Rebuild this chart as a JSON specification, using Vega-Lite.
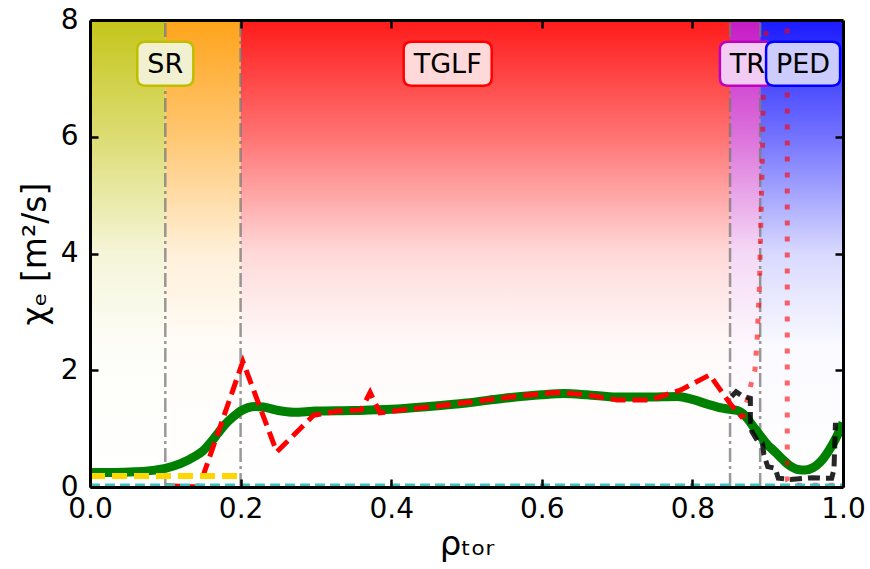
{
  "$schema": "https://vega.github.io/schema/vega-lite/v6.json",
  "width": 753,
  "height": 467,
  "autosize": {"type": "none"},
  "padding": {"left": 90, "top": 20, "right": 27, "bottom": 82},
  "background": "white",
  "config": {"view": {"stroke": null}, "font": "DejaVu Sans"},
  "resolve": {"axis": {"x": "independent", "y": "independent"}},
  "datasets": {
    "vlines": [{"x": 0.1}, {"x": 0.2}, {"x": 0.85}, {"x": 0.89}],
    "green": [
      {"x": 0, "y": 0.25}, {"x": 0.03, "y": 0.25}, {"x": 0.06, "y": 0.26}, {"x": 0.08, "y": 0.28},
      {"x": 0.1, "y": 0.32}, {"x": 0.12, "y": 0.4}, {"x": 0.14, "y": 0.53}, {"x": 0.15, "y": 0.62},
      {"x": 0.16, "y": 0.76}, {"x": 0.17, "y": 0.92}, {"x": 0.18, "y": 1.08}, {"x": 0.19, "y": 1.2},
      {"x": 0.2, "y": 1.3}, {"x": 0.21, "y": 1.36}, {"x": 0.22, "y": 1.38}, {"x": 0.23, "y": 1.37},
      {"x": 0.25, "y": 1.31}, {"x": 0.27, "y": 1.28}, {"x": 0.3, "y": 1.3}, {"x": 0.35, "y": 1.31},
      {"x": 0.4, "y": 1.33}, {"x": 0.45, "y": 1.38}, {"x": 0.5, "y": 1.44}, {"x": 0.55, "y": 1.52},
      {"x": 0.6, "y": 1.58}, {"x": 0.63, "y": 1.6}, {"x": 0.66, "y": 1.58}, {"x": 0.7, "y": 1.54},
      {"x": 0.74, "y": 1.54}, {"x": 0.78, "y": 1.55}, {"x": 0.8, "y": 1.5}, {"x": 0.82, "y": 1.42},
      {"x": 0.84, "y": 1.35}, {"x": 0.85, "y": 1.33}, {"x": 0.86, "y": 1.31}, {"x": 0.87, "y": 1.22},
      {"x": 0.88, "y": 1.05}, {"x": 0.89, "y": 0.88}, {"x": 0.9, "y": 0.72}, {"x": 0.91, "y": 0.6},
      {"x": 0.92, "y": 0.47}, {"x": 0.93, "y": 0.36}, {"x": 0.94, "y": 0.3}, {"x": 0.95, "y": 0.29},
      {"x": 0.96, "y": 0.33}, {"x": 0.97, "y": 0.43}, {"x": 0.98, "y": 0.6}, {"x": 0.99, "y": 0.82},
      {"x": 1.0, "y": 1.1}
    ],
    "tglf": [
      {"x": 0.1, "y": 0.02}, {"x": 0.145, "y": 0.0}, {"x": 0.203, "y": 2.15}, {"x": 0.248, "y": 0.6},
      {"x": 0.297, "y": 1.23}, {"x": 0.33, "y": 1.3}, {"x": 0.36, "y": 1.32}, {"x": 0.372, "y": 1.62},
      {"x": 0.385, "y": 1.27}, {"x": 0.42, "y": 1.33}, {"x": 0.47, "y": 1.4}, {"x": 0.52, "y": 1.48},
      {"x": 0.57, "y": 1.56}, {"x": 0.62, "y": 1.62}, {"x": 0.66, "y": 1.58}, {"x": 0.7, "y": 1.49},
      {"x": 0.744, "y": 1.49}, {"x": 0.784, "y": 1.66}, {"x": 0.823, "y": 1.92}, {"x": 0.85, "y": 1.43},
      {"x": 0.867, "y": 1.18}
    ],
    "dotted": [
      {"x": 0.867, "y": 1.18}, {"x": 0.872, "y": 1.45}, {"x": 0.877, "y": 1.72}, {"x": 0.883, "y": 2.0},
      {"x": 0.886, "y": 2.52}, {"x": 0.889, "y": 3.43}, {"x": 0.891, "y": 4.57}, {"x": 0.893, "y": 5.71},
      {"x": 0.894, "y": 6.68}, {"x": 0.898, "y": 7.83}, {"x": 0.9, "y": 9.0}, {"x": 0.925, "y": 9.0},
      {"x": 0.926, "y": 8.5}, {"x": 0.926, "y": 0.12}, {"x": 0.93, "y": 0.03}, {"x": 1.0, "y": 0.03}
    ],
    "black": [
      {"x": 0.852, "y": 1.55}, {"x": 0.858, "y": 1.63}, {"x": 0.866, "y": 1.56}, {"x": 0.877, "y": 1.52},
      {"x": 0.877, "y": 1.1}, {"x": 0.879, "y": 0.95}, {"x": 0.886, "y": 0.8}, {"x": 0.893, "y": 0.75},
      {"x": 0.895, "y": 0.55}, {"x": 0.9, "y": 0.35}, {"x": 0.91, "y": 0.32}, {"x": 0.914, "y": 0.15},
      {"x": 0.93, "y": 0.13}, {"x": 0.96, "y": 0.16}, {"x": 0.975, "y": 0.15}, {"x": 0.985, "y": 0.15},
      {"x": 0.988, "y": 0.3}, {"x": 0.99, "y": 1.1}
    ],
    "yellow": [{"x": 0, "y": 0.19}, {"x": 0.2, "y": 0.19}],
    "cyan": [{"x": 0, "y": 0.04}, {"x": 1, "y": 0.04}],
    "labels": [
      {"label": "SR", "x": 0.1, "y": 7.25},
      {"label": "TGLF", "x": 0.475, "y": 7.25},
      {"label": "TR", "x": 0.873, "y": 7.25},
      {"label": "PED", "x": 0.947, "y": 7.25}
    ]
  },
  "layer": [
    {
      "data": {"values": [{"x0": 0, "x1": 0.1}]},
      "mark": {"type": "rect", "fill": {"gradient": "linear", "x1": 0, "y1": 0, "x2": 0, "y2": 1, "stops": [
        {"offset": 0, "color": "#c5c51a"}, {"offset": 0.25, "color": "#dcdc73"}, {"offset": 0.5, "color": "#f5f5d9"}, {"offset": 0.7, "color": "#fdfdf8"}, {"offset": 1, "color": "#ffffff"}]}},
      "encoding": {
        "x": {"field": "x0", "type": "quantitative", "scale": {"domain": [0, 1], "nice": false, "zero": false},
          "axis": {"orient": "bottom", "values": [0, 0.2, 0.4, 0.6, 0.8, 1], "format": ".1f", "labelFontSize": 28, "labelFont": "DejaVu Sans", "labelColor": "black", "tickSize": -8, "tickWidth": 2.5, "tickColor": "black", "domainColor": "black", "domainWidth": 3, "labelPadding": 16, "labelFlush": false, "labelOverlap": false, "labelBound": false, "title": "ρₜₒᵣ", "titleFontSize": 34, "titleFont": "DejaVu Sans", "titleFontWeight": "normal", "titleColor": "black", "titlePadding": 4, "grid": false, "zindex": 1}},
        "x2": {"field": "x1"},
        "y": {"datum": 0, "type": "quantitative", "scale": {"domain": [0, 8], "nice": false, "zero": false},
          "axis": {"orient": "left", "values": [0, 2, 4, 6, 8], "format": "d", "labelFontSize": 28, "labelFont": "DejaVu Sans", "labelColor": "black", "tickSize": -8, "tickWidth": 2.5, "tickColor": "black", "domainColor": "black", "domainWidth": 3, "labelPadding": 20, "labelFlush": false, "labelOverlap": false, "labelBound": false, "title": "χₑ [m²/s]", "titleFontSize": 33, "titleFont": "DejaVu Sans", "titleFontWeight": "normal", "titleColor": "black", "titlePadding": 8, "grid": false, "zindex": 1}},
        "y2": {"datum": 8}
      }
    },
    {
      "data": {"values": [{"x0": 0.1, "x1": 0.2}]},
      "mark": {"type": "rect", "fill": {"gradient": "linear", "x1": 0, "y1": 0, "x2": 0, "y2": 1, "stops": [
        {"offset": 0, "color": "#ffa31a"}, {"offset": 0.25, "color": "#ffc773"}, {"offset": 0.5, "color": "#fff0d9"}, {"offset": 0.7, "color": "#fffcf8"}, {"offset": 1, "color": "#ffffff"}]}},
      "encoding": {
        "x": {"field": "x0", "type": "quantitative", "scale": {"domain": [0, 1], "nice": false, "zero": false},
          "axis": {"orient": "top", "values": [0.2, 0.4, 0.6, 0.8], "labels": false, "tickSize": -8, "tickWidth": 2.5, "tickColor": "black", "domainColor": "black", "domainWidth": 3, "title": null, "grid": false, "zindex": 1}},
        "x2": {"field": "x1"},
        "y": {"datum": 0, "type": "quantitative", "scale": {"domain": [0, 8], "nice": false, "zero": false},
          "axis": {"orient": "right", "values": [2, 4, 6], "labels": false, "tickSize": -8, "tickWidth": 2.5, "tickColor": "black", "domainColor": "black", "domainWidth": 3, "title": null, "grid": false, "zindex": 1}},
        "y2": {"datum": 8}
      }
    },
    {
      "data": {"values": [{"x0": 0.2, "x1": 0.85}]},
      "mark": {"type": "rect", "fill": {"gradient": "linear", "x1": 0, "y1": 0, "x2": 0, "y2": 1, "stops": [
        {"offset": 0, "color": "#ff1a1a"}, {"offset": 0.25, "color": "#ff7373"}, {"offset": 0.5, "color": "#ffd9d9"}, {"offset": 0.7, "color": "#fffafa"}, {"offset": 1, "color": "#ffffff"}]}},
      "encoding": {
        "x": {"field": "x0", "type": "quantitative", "scale": {"domain": [0, 1], "nice": false, "zero": false}, "axis": null},
        "x2": {"field": "x1"},
        "y": {"datum": 0, "type": "quantitative", "scale": {"domain": [0, 8], "nice": false, "zero": false}, "axis": null},
        "y2": {"datum": 8}
      }
    },
    {
      "data": {"values": [{"x0": 0.85, "x1": 0.89}]},
      "mark": {"type": "rect", "fill": {"gradient": "linear", "x1": 0, "y1": 0, "x2": 0, "y2": 1, "stops": [
        {"offset": 0, "color": "#c51ac5"}, {"offset": 0.25, "color": "#dc73dc"}, {"offset": 0.5, "color": "#f5d9f5"}, {"offset": 0.7, "color": "#fdf8fd"}, {"offset": 1, "color": "#ffffff"}]}},
      "encoding": {
        "x": {"field": "x0", "type": "quantitative", "scale": {"domain": [0, 1], "nice": false, "zero": false}, "axis": null},
        "x2": {"field": "x1"},
        "y": {"datum": 0, "type": "quantitative", "scale": {"domain": [0, 8], "nice": false, "zero": false}, "axis": null},
        "y2": {"datum": 8}
      }
    },
    {
      "data": {"values": [{"x0": 0.89, "x1": 1.0}]},
      "mark": {"type": "rect", "fill": {"gradient": "linear", "x1": 0, "y1": 0, "x2": 0, "y2": 1, "stops": [
        {"offset": 0, "color": "#1a1aff"}, {"offset": 0.25, "color": "#7373ff"}, {"offset": 0.5, "color": "#d9d9ff"}, {"offset": 0.7, "color": "#fafaff"}, {"offset": 1, "color": "#ffffff"}]}},
      "encoding": {
        "x": {"field": "x0", "type": "quantitative", "scale": {"domain": [0, 1], "nice": false, "zero": false}, "axis": null},
        "x2": {"field": "x1"},
        "y": {"datum": 0, "type": "quantitative", "scale": {"domain": [0, 8], "nice": false, "zero": false}, "axis": null},
        "y2": {"datum": 8}
      }
    },
    {
      "data": {"name": "vlines"},
      "mark": {"type": "rule", "color": "#777777", "opacity": 0.75, "strokeWidth": 2.5, "strokeDash": [14, 4, 3, 4]},
      "encoding": {
        "x": {"field": "x", "type": "quantitative", "scale": {"domain": [0, 1], "nice": false, "zero": false}, "axis": null},
        "y": {"datum": 0, "type": "quantitative", "scale": {"domain": [0, 8], "nice": false, "zero": false}, "axis": null},
        "y2": {"datum": 8}
      }
    },
    {
      "data": {"name": "green"},
      "mark": {"type": "line", "color": "#008000", "strokeWidth": 9, "interpolate": "monotone", "clip": true},
      "encoding": {
        "x": {"field": "x", "type": "quantitative", "scale": {"domain": [0, 1], "nice": false, "zero": false}, "axis": null},
        "y": {"field": "y", "type": "quantitative", "scale": {"domain": [0, 8], "nice": false, "zero": false}, "axis": null},
        "order": {"value": null}
      }
    },
    {
      "data": {"name": "tglf"},
      "mark": {"type": "line", "color": "#ff0000", "strokeWidth": 5, "strokeDash": [15, 7], "clip": true},
      "encoding": {
        "x": {"field": "x", "type": "quantitative", "scale": {"domain": [0, 1], "nice": false, "zero": false}, "axis": null},
        "y": {"field": "y", "type": "quantitative", "scale": {"domain": [0, 8], "nice": false, "zero": false}, "axis": null},
        "order": {"value": null}
      }
    },
    {
      "data": {"name": "dotted"},
      "mark": {"type": "line", "color": "#ff0000", "opacity": 0.6, "strokeWidth": 5, "strokeDash": [5, 11], "clip": true},
      "encoding": {
        "x": {"field": "x", "type": "quantitative", "scale": {"domain": [0, 1], "nice": false, "zero": false}, "axis": null},
        "y": {"field": "y", "type": "quantitative", "scale": {"domain": [0, 8], "nice": false, "zero": false}, "axis": null},
        "order": {"value": null}
      }
    },
    {
      "data": {"name": "black"},
      "mark": {"type": "line", "color": "#000000", "opacity": 0.85, "strokeWidth": 5, "strokeDash": [12, 6], "clip": true},
      "encoding": {
        "x": {"field": "x", "type": "quantitative", "scale": {"domain": [0, 1], "nice": false, "zero": false}, "axis": null},
        "y": {"field": "y", "type": "quantitative", "scale": {"domain": [0, 8], "nice": false, "zero": false}, "axis": null},
        "order": {"value": null}
      }
    },
    {
      "data": {"name": "yellow"},
      "mark": {"type": "line", "color": "#ffd700", "strokeWidth": 6, "strokeDash": [15, 7], "clip": true},
      "encoding": {
        "x": {"field": "x", "type": "quantitative", "scale": {"domain": [0, 1], "nice": false, "zero": false}, "axis": null},
        "y": {"field": "y", "type": "quantitative", "scale": {"domain": [0, 8], "nice": false, "zero": false}, "axis": null},
        "order": {"value": null}
      }
    },
    {
      "data": {"name": "cyan"},
      "mark": {"type": "line", "color": "#40c0c0", "strokeWidth": 2.5, "strokeDash": [10, 5], "clip": true},
      "encoding": {
        "x": {"field": "x", "type": "quantitative", "scale": {"domain": [0, 1], "nice": false, "zero": false}, "axis": null},
        "y": {"field": "y", "type": "quantitative", "scale": {"domain": [0, 8], "nice": false, "zero": false}, "axis": null},
        "order": {"value": null}
      }
    },
    {
      "data": {"name": "labels"},
      "mark": {"type": "point", "filled": true, "size": 1936, "strokeWidth": 2.5, "opacity": 1, "fillOpacity": 1, "strokeOpacity": 1},
      "encoding": {
        "x": {"field": "x", "type": "quantitative", "scale": {"domain": [0, 1], "nice": false, "zero": false}, "axis": null},
        "y": {"field": "y", "type": "quantitative", "scale": {"domain": [0, 8], "nice": false, "zero": false}, "axis": null},
        "shape": {"field": "label", "type": "nominal", "legend": null, "scale": {"domain": ["SR", "TGLF", "TR", "PED"], "range": [
          "M-0.913,-1L0.913,-1Q1.273,-1,1.273,-0.64L1.273,0.64Q1.273,1,0.913,1L-0.913,1Q-1.273,1,-1.273,0.64L-1.273,-0.64Q-1.273,-1,-0.913,-1Z",
          "M-1.64,-1L1.64,-1Q2,-1,2,-0.64L2,0.64Q2,1,1.64,1L-1.64,1Q-2,1,-2,0.64L-2,-0.64Q-2,-1,-1.64,-1Z",
          "M-0.89,-1L0.89,-1Q1.25,-1,1.25,-0.64L1.25,0.64Q1.25,1,0.89,1L-0.89,1Q-1.25,1,-1.25,0.64L-1.25,-0.64Q-1.25,-1,-0.89,-1Z",
          "M-1.322,-1L1.322,-1Q1.682,-1,1.682,-0.64L1.682,0.64Q1.682,1,1.322,1L-1.322,1Q-1.682,1,-1.682,0.64L-1.682,-0.64Q-1.682,-1,-1.322,-1Z"]}},
        "fill": {"field": "label", "type": "nominal", "legend": null, "scale": {"domain": ["SR", "TGLF", "TR", "PED"], "range": ["#f1f1d2", "#ffd9d9", "#f2ccf2", "#ccccff"]}},
        "stroke": {"field": "label", "type": "nominal", "legend": null, "scale": {"domain": ["SR", "TGLF", "TR", "PED"], "range": ["#bfbf00", "#ff0000", "#bf00bf", "#0000ff"]}},
        "order": {"value": null}
      }
    },
    {
      "data": {"name": "labels"},
      "mark": {"type": "text", "fontSize": 27, "font": "DejaVu Sans", "color": "black", "align": "center", "baseline": "middle", "dy": 1},
      "encoding": {
        "x": {"field": "x", "type": "quantitative", "scale": {"domain": [0, 1], "nice": false, "zero": false}, "axis": null},
        "y": {"field": "y", "type": "quantitative", "scale": {"domain": [0, 8], "nice": false, "zero": false}, "axis": null},
        "text": {"field": "label"}
      }
    }
  ]
}
